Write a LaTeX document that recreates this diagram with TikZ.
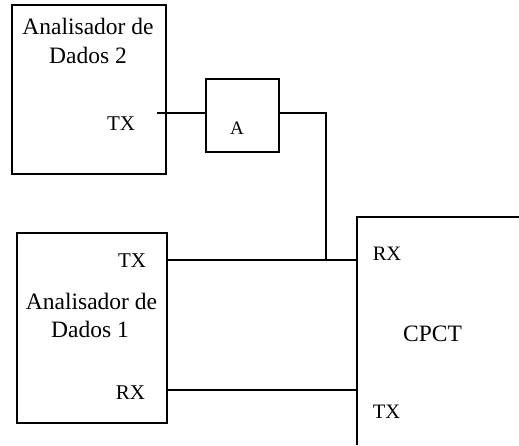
\documentclass[tikz,border=0pt]{standalone}
\usepackage{fontspec}
\setmainfont{Liberation Serif}
\begin{document}
\begin{tikzpicture}[x=1pt,y=-1pt,line width=1.6pt,
  box/.style={draw,rectangle,anchor=north west,inner sep=0pt},
  big/.style={inner sep=0pt,anchor=base,font=\fontsize{23.5}{28}\selectfont},
  lbl/.style={inner sep=0pt,anchor=base,font=\fontsize{21}{25}\selectfont},
  wire/.style={line width=1.6pt}]
\useasboundingbox (0,0) rectangle (519,445);
% boxes
\node[box,minimum width=154pt,minimum height=169pt] (ad2) at (11,4) {};
\node[box,minimum width=73pt,minimum height=73pt] (a) at (205,78) {};
\node[box,minimum width=150pt,minimum height=190pt] (ad1) at (16,232) {};
\coordinate (cpcttr) at (519,217);
\coordinate (cpcttl) at (357,217);
\coordinate (cpctbl) at (357,445);
\draw (cpcttr) -- (cpcttl) -- (cpctbl);
% texts
\node[big] (ad2l1) at (88,34) {Analisador de};
\node[big] (ad2l2) at (88,63) {Dados 2};
\node[lbl] (ad2tx) at (121,130.5) {TX};
\node[inner sep=0pt,anchor=base,font=\fontsize{19}{23}\selectfont] (alabel) at (237,134) {A};
\node[lbl] (ad1tx) at (132,267.5) {TX};
\node[big] (ad1l1) at (91.5,309) {Analisador de};
\node[big] (ad1l2) at (90,337) {Dados 1};
\node[lbl] (ad1rx) at (130.5,399) {RX};
\node[inner sep=0pt,anchor=base,font=\fontsize{20.5}{24}\selectfont] (cpctrx) at (387,260.5) {RX};
\node[big] (cpct) at (432.5,341.5) {CPCT};
\node[inner sep=0pt,anchor=base,font=\fontsize{20.5}{24}\selectfont] (cpcttx) at (386.5,418) {TX};
% connectors
\coordinate (s2) at (157,113);
\coordinate (bend) at (326,113);
\coordinate (join) at (326,260);
\draw[wire] (s2) -- (a.west |- s2);
\draw[wire] (a.east |- s2) -- (bend) -- (join);
\draw[wire] (ad1.east |- join) -- (cpcttl |- join);
\coordinate (rxy) at (0,390);
\draw[wire] (ad1.east |- rxy) -- (cpcttl |- rxy);
\end{tikzpicture}
\end{document}
